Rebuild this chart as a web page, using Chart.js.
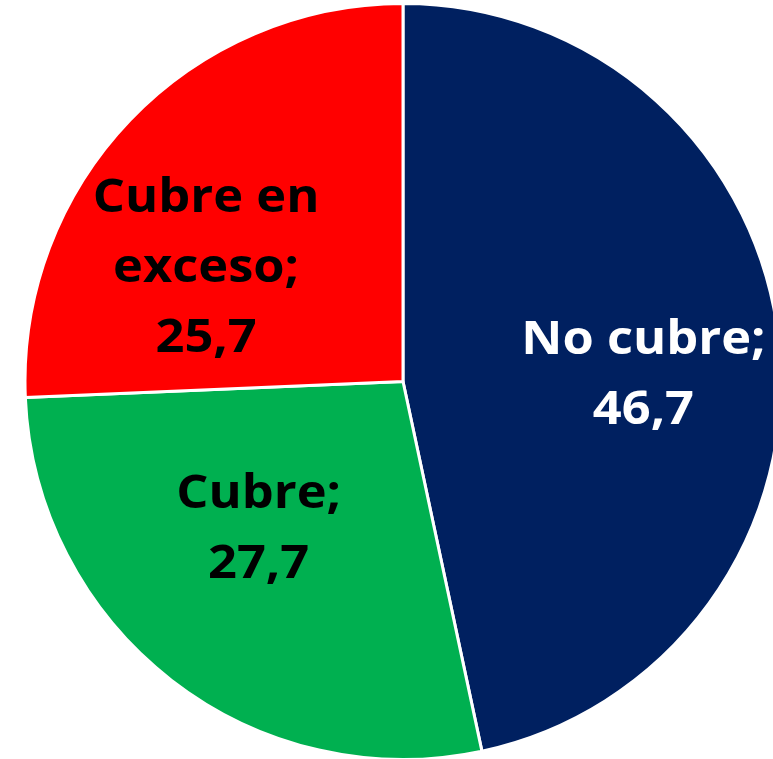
<!DOCTYPE html>
<html lang="es">
<head>
    <meta charset="UTF-8">
    <title>Cobertura</title>
    <script src="https://cdn.jsdelivr.net/npm/chart.js"></script>
    <style>
        html, body {
            margin: 0;
            padding: 0;
            background: #ffffff;
        }
        #wrap {
            width: 773px;
            height: 759px;
            overflow: hidden;
            position: relative;
        }
        canvas {
            position: absolute;
            left: 0;
            top: 2px;
        }
    </style>
</head>
<body>
    <div id="wrap">
        <canvas id="pieChart" width="806" height="759"></canvas>
    </div>

    <script>
        const categories = ["No cubre", "Cubre", "Cubre en exceso"];
        const values = [46.7, 27.7, 25.7];
        const colors = ["#002060", "#00B050", "#FF0000"];

        // label lines, colours and placement (fraction of radius from centre)
        const labelLines = [["No cubre;", "46,7"], ["Cubre;", "27,7"], ["Cubre en", "exceso;", "25,7"]];
        const labelColors = ["#ffffff", "#000000", "#000000"];
        const labelPos = [[0.636, -0.023], [-0.382, 0.383], [-0.521, -0.308]];

        const fmt = v => v.toFixed(1).replace(".", ",");

        const pieLabels = {
            id: "pieLabels",
            afterDatasetsDraw(chart) {
                const ctx = chart.ctx;
                const meta = chart.getDatasetMeta(0);
                const lh = 70;
                const cap = 33;
                const stretch = 1.1;
                meta.data.forEach((arc, i) => {
                    const lines = labelLines[i].slice(0, -1).concat([fmt(values[i])]);
                    const cx = arc.x + labelPos[i][0] * arc.outerRadius;
                    const cy = arc.y + labelPos[i][1] * arc.outerRadius;
                    const first = cy - (lines.length - 1) * lh / 2 + cap / 2;
                    ctx.save();
                    ctx.font = "bold 46px 'Open Sans'";
                    ctx.textAlign = "center";
                    ctx.textBaseline = "alphabetic";
                    ctx.fillStyle = labelColors[i];
                    ctx.translate(cx, 0);
                    ctx.scale(stretch, 1);
                    lines.forEach((t, j) => ctx.fillText(t, 0, first + j * lh));
                    ctx.restore();
                });
            }
        };

        new Chart(document.getElementById("pieChart").getContext("2d"), {
            type: "pie",
            data: {
                labels: categories,
                datasets: [{
                    data: values,
                    backgroundColor: colors,
                    borderColor: "#ffffff",
                    borderWidth: 3
                }]
            },
            options: {
                responsive: false,
                animation: false,
                devicePixelRatio: 1,
                layout: { padding: 0 },
                plugins: {
                    legend: { display: false },
                    tooltip: { enabled: false }
                }
            },
            plugins: [pieLabels]
        });
    </script>
</body>
</html>
